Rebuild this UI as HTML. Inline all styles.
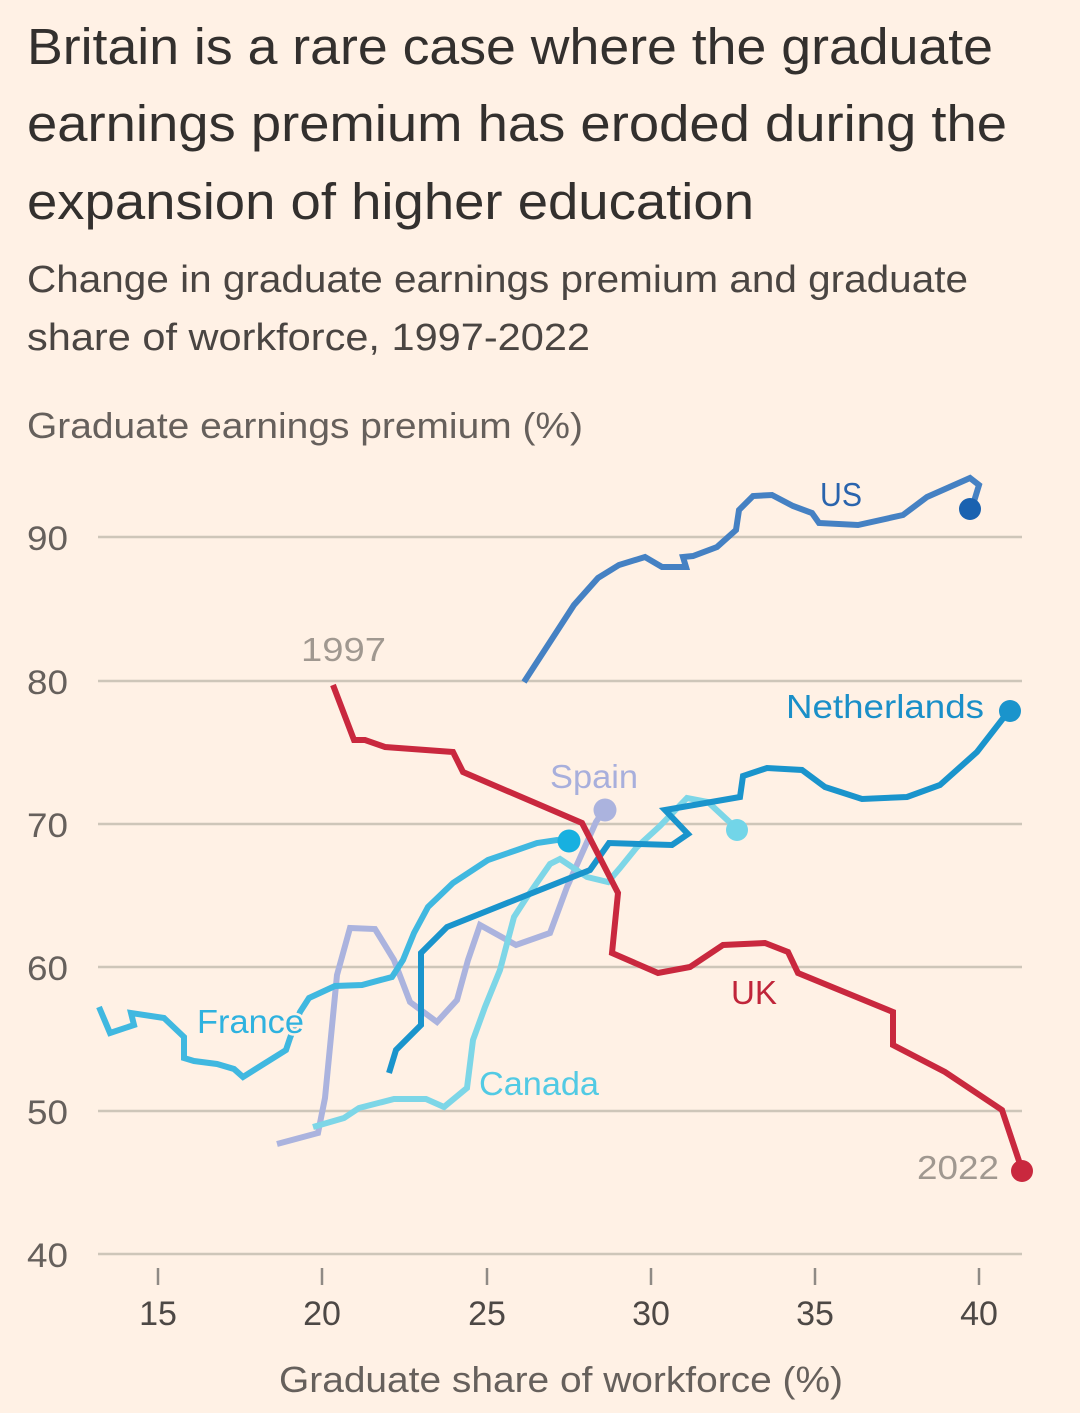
<!DOCTYPE html>
<html>
<head>
<meta charset="utf-8">
<style>
  html, body { margin:0; padding:0; background:#fff1e5; }
  body { width:1080px; height:1413px; overflow:hidden; }
  svg { display:block; }
  text { font-family: "Liberation Sans", "DejaVu Sans", sans-serif; }
</style>
</head>
<body>
<svg width="1080" height="1413" viewBox="0 0 1080 1413" xmlns="http://www.w3.org/2000/svg">
  <rect x="0" y="0" width="1080" height="1413" fill="#fff1e5"/>

  <!-- Title -->
  <g fill="#33302e" font-size="51">
    <text x="27" y="64" textLength="966" lengthAdjust="spacingAndGlyphs">Britain is a rare case where the graduate</text>
    <text x="27" y="141" textLength="980" lengthAdjust="spacingAndGlyphs">earnings premium has eroded during the</text>
    <text x="27" y="219" textLength="727" lengthAdjust="spacingAndGlyphs">expansion of higher education</text>
  </g>
  <!-- Subtitle -->
  <g fill="#4a4542" font-size="38">
    <text x="27" y="292" textLength="941" lengthAdjust="spacingAndGlyphs">Change in graduate earnings premium and graduate</text>
    <text x="27" y="350" textLength="563" lengthAdjust="spacingAndGlyphs">share of workforce, 1997-2022</text>
  </g>
  <!-- Y axis title -->
  <text x="27" y="438" font-size="36" fill="#66605c" textLength="556" lengthAdjust="spacingAndGlyphs">Graduate earnings premium (%)</text>

  <!-- Gridlines -->
  <g stroke="#cec6b9" stroke-width="2.5">
    <line x1="98" y1="537" x2="1022" y2="537"/>
    <line x1="98" y1="681" x2="1022" y2="681"/>
    <line x1="98" y1="824" x2="1022" y2="824"/>
    <line x1="98" y1="967" x2="1022" y2="967"/>
    <line x1="98" y1="1111" x2="1022" y2="1111"/>
    <line x1="98" y1="1254" x2="1022" y2="1254"/>
  </g>
  <!-- Y labels -->
  <g fill="#66605c" font-size="34">
    <text x="27" y="550" textLength="41" lengthAdjust="spacingAndGlyphs">90</text>
    <text x="27" y="694" textLength="41" lengthAdjust="spacingAndGlyphs">80</text>
    <text x="27" y="837" textLength="41" lengthAdjust="spacingAndGlyphs">70</text>
    <text x="27" y="980" textLength="41" lengthAdjust="spacingAndGlyphs">60</text>
    <text x="27" y="1124" textLength="41" lengthAdjust="spacingAndGlyphs">50</text>
    <text x="27" y="1267" textLength="41" lengthAdjust="spacingAndGlyphs">40</text>
  </g>
  <!-- X ticks -->
  <g stroke="#8f8a85" stroke-width="2.5">
    <line x1="158" y1="1268" x2="158" y2="1285"/>
    <line x1="322" y1="1268" x2="322" y2="1285"/>
    <line x1="487" y1="1268" x2="487" y2="1285"/>
    <line x1="651" y1="1268" x2="651" y2="1285"/>
    <line x1="815" y1="1268" x2="815" y2="1285"/>
    <line x1="979" y1="1268" x2="979" y2="1285"/>
  </g>
  <g fill="#4d4845" font-size="34" text-anchor="middle">
    <text x="158" y="1325">15</text>
    <text x="322" y="1325">20</text>
    <text x="487" y="1325">25</text>
    <text x="651" y="1325">30</text>
    <text x="815" y="1325">35</text>
    <text x="979" y="1325">40</text>
  </g>
  <text x="279" y="1392" font-size="36" fill="#66605c" textLength="564" lengthAdjust="spacingAndGlyphs">Graduate share of workforce (%)</text>

  <!-- Series -->
  <g fill="none" stroke-width="6" stroke-linejoin="miter" stroke-linecap="butt">
    <!-- Spain -->
    <polyline stroke="#abb3de" points="277,1144 318,1133 325,1098 337,975 350,928 375,929 394,960 410,1002 437,1022 457,1000 468,960 480,925 516,945 550,933 567,887 596,822 604,810"/>
    <!-- Canada -->
    <polyline stroke="#7dd6e7" points="313,1127 344,1118 359,1108 394,1099 426,1099 444,1107 467,1088 473,1040 485,1007 500,970 514,917 527,897 550,864 560,859 587,877 608,882 620,868 637,847 660,826 687,798 708,802 737,829"/>
    <!-- France -->
    <polyline stroke="#40b8e0" points="99,1007 110,1033 134,1025 131,1013 164,1018 184,1037 184,1058 194,1061 217,1064 234,1069 243,1077 286,1050 290,1038 300,1012 309,998 335,986 362,985 392,977 403,960 414,933 428,907 453,883 488,860 517,850 537,843 557,840 569,842"/>
    <!-- Netherlands -->
    <polyline stroke="#1a94cc" points="389,1073 396,1050 421,1025 421,953 447,927 590,870 609,843 672,845 688,834 665,810 740,797 743,776 767,768 802,770 825,787 862,799 907,797 940,785 977,752 1008,712"/>
    <!-- US -->
    <polyline stroke="#4581c3" points="524,682 574,605 598,578 619,565 645,557 662,567 686,567 683,557 693,556 717,547 736,530 739,510 753,496 772,495 793,506 812,513 819,523 858,525 903,515 927,497 970,478 979,485 972,508"/>
    <!-- UK -->
    <polyline stroke="#c9283e" points="333,685 354,740 365,740 385,747 453,752 463,772 582,823 618,893 612,953 658,973 690,967 723,945 765,943 788,952 798,973 893,1012 893,1045 945,1072 1002,1110 1022,1170"/>
  </g>

  <!-- End dots -->
  <circle cx="605" cy="810" r="11.5" fill="#abb3de"/>
  <circle cx="737" cy="830" r="11" fill="#72d5e8"/>
  <circle cx="569" cy="841" r="11.5" fill="#17b0e0"/>
  <circle cx="1010" cy="711" r="11" fill="#1a94cc"/>
  <circle cx="970" cy="509" r="11" fill="#1a62b0"/>
  <circle cx="1022" cy="1171" r="11" fill="#c9283e"/>

  <!-- Labels -->
  <g font-size="33" stroke="#fff1e5" stroke-width="5" paint-order="stroke" stroke-linejoin="round">
    <text x="820" y="506" fill="#2a64ad" textLength="42" lengthAdjust="spacingAndGlyphs">US</text>
    <text x="786" y="718" fill="#1a8fc8" textLength="198" lengthAdjust="spacingAndGlyphs">Netherlands</text>
    <text x="550" y="788" fill="#a8afdc" textLength="88" lengthAdjust="spacingAndGlyphs">Spain</text>
    <text x="197" y="1033" fill="#2fb2df" textLength="107" lengthAdjust="spacingAndGlyphs">France</text>
    <text x="479" y="1095" fill="#52cae4" textLength="120" lengthAdjust="spacingAndGlyphs">Canada</text>
    <text x="731" y="1004" fill="#c0253a" textLength="46" lengthAdjust="spacingAndGlyphs">UK</text>
    <text x="301" y="661" fill="#a09890" textLength="85" lengthAdjust="spacingAndGlyphs">1997</text>
    <text x="917" y="1179" fill="#a09890" textLength="82" lengthAdjust="spacingAndGlyphs">2022</text>
  </g>
</svg>
</body>
</html>
